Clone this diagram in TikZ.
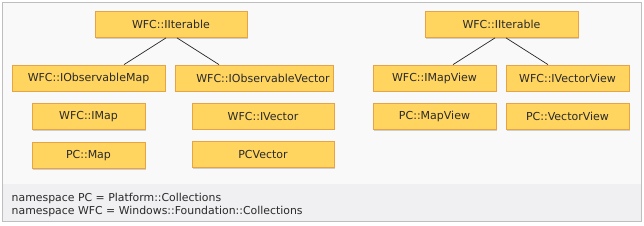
\documentclass[tikz,border=0pt]{standalone}
\usepackage{fontspec}
\setmainfont{DejaVu Sans}
\usepackage{xcolor}
\usetikzlibrary{positioning,shadows}
\definecolor{boxfill}{HTML}{FFD45F}
\definecolor{boxline}{HTML}{E8A444}
\definecolor{txt}{HTML}{2A2A2A}
\definecolor{pagebg}{HTML}{F9F9F9}
\definecolor{noteband}{HTML}{F0F0F2}
\definecolor{frame}{HTML}{BEBEBE}
\begin{document}
\begin{tikzpicture}[x=1pt,y=-1pt,
          box/.style={draw=boxline,fill=boxfill,line width=0.8pt,minimum height=26pt,
            inner sep=0pt,text=txt,font=\fontsize{11}{13}\selectfont,
            drop shadow={shadow xshift=1.2pt,shadow yshift=-1.2pt,fill=black!30,opacity=0.6}},
          link/.style={draw=black!85,line width=0.7pt}]
          \useasboundingbox (0,0) rectangle (644,225);
          \fill[pagebg] (2.5,2.5) rectangle (641.5,221.5);
          \fill[noteband] (2.5,184) rectangle (641.5,221.5);
          \draw[frame,line width=0.8pt] (2.5,2.5) rectangle (641.5,221.5);
          % map and vector branch
          \node[box,minimum width=152pt](itL) at (171,24.5){WFC::IIterable};
          \node[box,minimum width=153pt](omap) at (88.5,78){WFC::IObservableMap};
          \node[box,minimum width=158pt](ovec) at (254,78){\hspace*{18pt}WFC::IObservableVector};
          \node[box,minimum width=113pt,below=12pt of omap](imap){WFC::IMap};
          \node[box,minimum width=113pt,below=12pt of imap](pmap){PC::Map};
          \node[box,minimum width=142pt](ivec) at (263,116){WFC::IVector};
          \node[box,minimum width=142pt,below=12pt of ivec](pvec){PCVector};
          % view branch
          \node[box,minimum width=153pt](itR) at (501.5,24.5){WFC::IIterable};
          \node[box,minimum width=123pt](imv) at (434.5,78){WFC::IMapView};
          \node[box,minimum width=123pt](ivv) at (567.5,78){WFC::IVectorView};
          \node[box,minimum width=123pt,below=12pt of imv](pmv){PC::MapView};
          \node[box,minimum width=123pt,below=12pt of ivv](pvv){PC::VectorView};
          \draw[link]([xshift=-5pt]itL.south)--([xshift=35.5pt]omap.north);
          \draw[link]([xshift=6pt]itL.south)--([xshift=-35pt]ovec.north);
          \draw[link]([xshift=-6.5pt]itR.south)--([xshift=18.5pt]imv.north);
          \draw[link]([xshift=4.5pt]itR.south)--([xshift=-19.5pt]ivv.north);
          % namespace note
          \node[anchor=west,align=left,inner sep=0pt,text=txt,
            font=\fontsize{10.9}{13}\selectfont](note) at (11.5,204.5)
            {namespace PC = Platform::Collections\\namespace WFC = Windows::Foundation::Collections};
        \end{tikzpicture}
\end{document}
